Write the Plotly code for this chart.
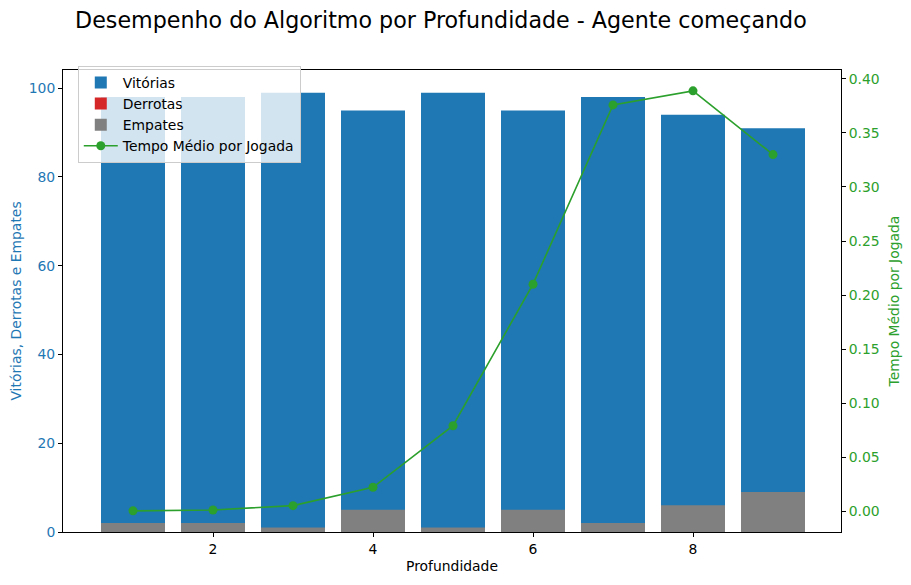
import plotly.graph_objects as go

profundidade = [1, 2, 3, 4, 5, 6, 7, 8, 9]
vitorias = [98, 98, 99, 95, 99, 95, 98, 94, 91]
derrotas = [0, 0, 0, 0, 0, 0, 0, 0, 0]
empates = [2, 2, 1, 5, 1, 5, 2, 6, 9]
tempo_medio = [0.0002, 0.001, 0.005, 0.022, 0.079, 0.210, 0.376, 0.389, 0.330]

FONT = "DejaVu Sans"
BLUE = "#1f77b4"
RED = "#d62728"
GREY = "#808080"
GREEN = "#2ca02c"
FS = 13.9

fig = go.Figure()
fig.add_trace(go.Bar(x=profundidade, y=vitorias, name="Vitórias", marker=dict(color=BLUE, line=dict(width=0)), width=0.8))
fig.add_trace(go.Bar(x=profundidade, y=derrotas, base=vitorias, name="Derrotas", marker=dict(color=RED, line=dict(width=0)), width=0.8))
fig.add_trace(go.Bar(x=profundidade, y=empates, name="Empates", marker=dict(color=GREY, line=dict(width=0)), width=0.8))
fig.add_trace(go.Scatter(x=profundidade, y=tempo_medio, name="Tempo Médio por Jogada", mode="lines+markers",
                         line=dict(color=GREEN, width=1.6), marker=dict(color=GREEN, size=9), yaxis="y2"))

fig.update_layout(
    width=911, height=585,
    margin=dict(l=63, r=70, t=70, b=53),
    paper_bgcolor="white", plot_bgcolor="white",
    barmode="overlay",
    font=dict(family=FONT, size=FS, color="black"),
    title=dict(text="Desempenho do Algoritmo por Profundidade - Agente começando",
               x=0.484, xanchor="center", y=0.965, yanchor="middle",
               font=dict(family=FONT, size=22.2, color="black")),
    xaxis=dict(range=[0.125, 9.85], tickvals=[2, 4, 6, 8], ticks="outside", ticklen=4, tickcolor="black",
               showline=True, linecolor="black", linewidth=1, mirror=True, showgrid=False, zeroline=False,
               title=dict(text="Profundidade", font=dict(size=FS), standoff=5),
               tickfont=dict(size=FS)),
    yaxis=dict(range=[0, 104.1], tickvals=[0, 20, 40, 60, 80, 100], ticks="outside", ticklen=4, tickcolor="black",
               showline=True, linecolor="black", linewidth=1, mirror=True, showgrid=False, zeroline=False,
               tickfont=dict(size=FS, color=BLUE),
               title=dict(text="Vitórias, Derrotas e Empates", font=dict(size=FS, color=BLUE), standoff=3)),
    yaxis2=dict(overlaying="y", side="right", range=[-0.0194, 0.4083],
                tickvals=[0, 0.05, 0.1, 0.15, 0.2, 0.25, 0.3, 0.35, 0.4], tickformat=".2f",
                ticks="outside", ticklen=4, tickcolor="black", showgrid=False, zeroline=False, showline=False,
                tickfont=dict(size=FS, color=GREEN),
                title=dict(text="Tempo Médio por Jogada", font=dict(size=FS, color=GREEN), standoff=10)),
    legend=dict(x=0.019, y=1.0087, xanchor="left", yanchor="top",
                bgcolor="rgba(255,255,255,0.8)", bordercolor="#cccccc", borderwidth=1,
                font=dict(size=FS), tracegroupgap=0, itemwidth=34),
    showlegend=True,
)

fig.write_html("out.html")
